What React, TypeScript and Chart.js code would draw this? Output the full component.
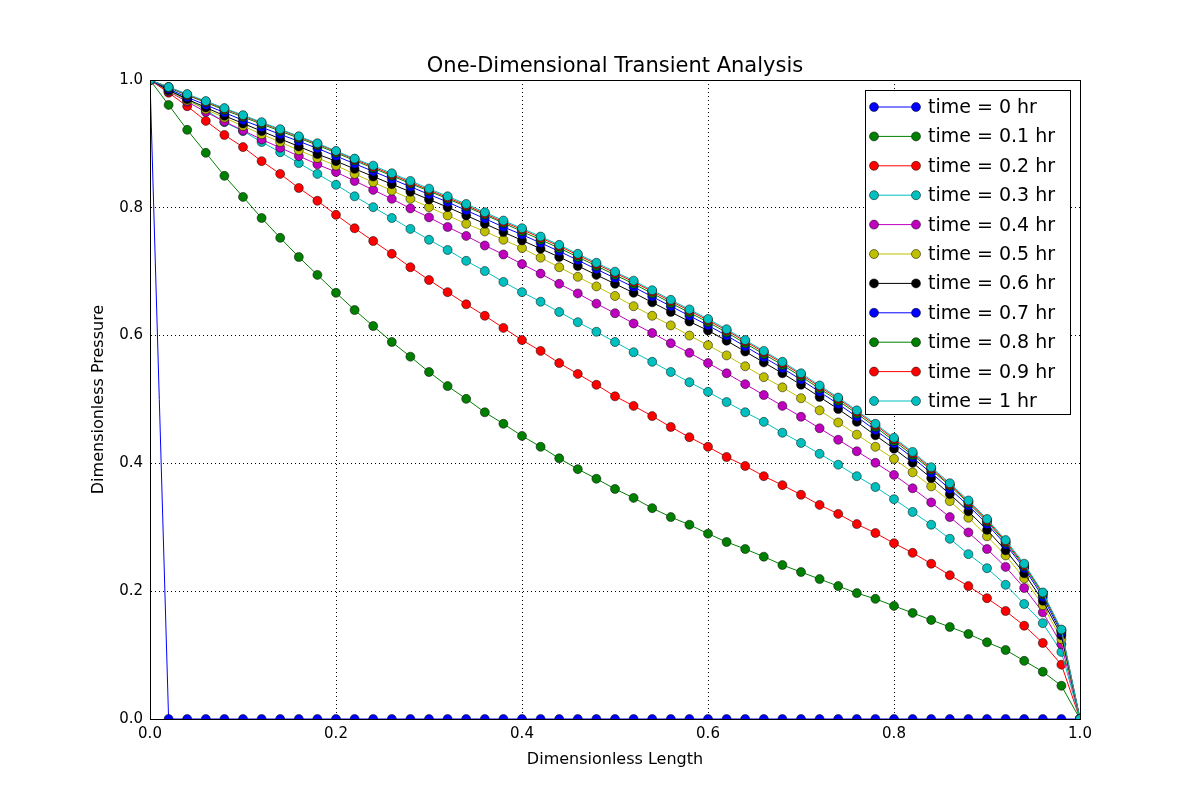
import React, { useEffect, useRef } from 'react';
import Chart from 'chart.js/auto';

// grid of dimensionless length, 0 to 1 in steps of 0.02
const lengths: number[] = Array.from({ length: 51 }, (_, i) => Math.round(i * 2) / 100);

const timeLabels = ['0', '0.1', '0.2', '0.3', '0.4', '0.5', '0.6', '0.7', '0.8', '0.9', '1'];
const seriesColors = ['#0000ff', '#008000', '#ff0000', '#00bfbf', '#bf00bf', '#bfbf00', '#000000', '#0000ff', '#008000', '#ff0000', '#00bfbf'];

const p0 = [
  1, 0, 0, 0, 0, 0, 0, 0, 0, 0,
  0, 0, 0, 0, 0, 0, 0, 0, 0, 0,
  0, 0, 0, 0, 0, 0, 0, 0, 0, 0,
  0, 0, 0, 0, 0, 0, 0, 0, 0, 0,
  0, 0, 0, 0, 0, 0, 0, 0, 0, 0,
  0,
];
const p01 = [
  1, .961, .922, .886, .850, .817, .784, .753, .723, .695,
  .667, .640, .615, .590, .567, .543, .521, .501, .480, .462,
  .443, .426, .408, .391, .376, .360, .346, .330, .316, .304,
  .290, .277, .266, .254, .241, .230, .219, .208, .197, .188,
  .177, .166, .155, .144, .133, .120, .108, .091, .074, .052,
  0,
];
const p02 = [
  1, .980, .959, .936, .914, .895, .873, .853, .831, .811,
  .789, .768, .748, .728, .707, .687, .668, .649, .631, .612,
  .593, .576, .557, .540, .523, .505, .490, .474, .457, .441,
  .426, .410, .396, .380, .366, .351, .335, .321, .305, .291,
  .275, .260, .243, .225, .208, .189, .169, .146, .119, .085,
  0,
];
const p03 = [
  1, .985, .970, .953, .934, .920, .903, .887, .870, .853,
  .836, .818, .801, .784, .767, .750, .734, .717, .701, .684,
  .668, .653, .637, .621, .606, .590, .574, .559, .543, .527,
  .512, .496, .480, .465, .448, .432, .415, .398, .380, .363,
  .344, .324, .304, .282, .258, .236, .210, .180, .150, .105,
  0,
];
const p04 = [
  1, .982, .966, .950, .935, .921, .907, .894, .881, .868,
  .856, .842, .828, .814, .799, .785, .770, .756, .741, .727,
  .712, .697, .681, .666, .650, .635, .619, .604, .588, .573,
  .557, .541, .524, .507, .490, .473, .455, .437, .419, .401,
  .382, .361, .339, .316, .292, .266, .238, .205, .167, .117,
  0,
];
const p05 = [
  1, .983, .968, .954, .941, .928, .915, .903, .890, .878,
  .866, .853, .840, .827, .814, .801, .788, .775, .763, .750,
  .737, .722, .707, .692, .677, .662, .646, .631, .616, .600,
  .585, .569, .552, .535, .519, .502, .483, .464, .445, .426,
  .407, .386, .364, .341, .315, .286, .256, .220, .178, .125,
  0,
];
const p06 = [
  1, .984, .970, .957, .944, .932, .920, .908, .896, .884,
  .873, .861, .849, .837, .825, .813, .801, .788, .775, .762,
  .749, .736, .723, .709, .695, .681, .667, .652, .637, .622,
  .608, .592, .575, .558, .541, .523, .504, .485, .465, .444,
  .423, .401, .377, .352, .325, .296, .264, .228, .185, .131,
  0,
];
const p07 = [
  1, .986, .973, .961, .949, .937, .926, .915, .904, .893,
  .881, .869, .857, .845, .833, .821, .809, .796, .783, .770,
  .758, .745, .732, .718, .704, .690, .676, .661, .646, .631,
  .616, .600, .583, .566, .549, .531, .512, .493, .473, .452,
  .431, .409, .385, .360, .334, .305, .273, .236, .191, .135,
  0,
];
const p08 = [
  1, .988, .976, .965, .953, .942, .931, .920, .909, .898,
  .886, .874, .862, .850, .838, .826, .814, .802, .789, .776,
  .763, .750, .737, .723, .709, .695, .681, .666, .651, .636,
  .621, .605, .588, .571, .554, .536, .517, .498, .478, .457,
  .435, .413, .390, .365, .338, .309, .276, .239, .195, .138,
  0,
];
const p09 = [
  1, .989, .977, .966, .955, .944, .933, .922, .911, .900,
  .888, .876, .864, .852, .840, .828, .816, .804, .791, .778,
  .766, .753, .740, .726, .712, .698, .684, .669, .654, .639,
  .624, .608, .591, .574, .557, .539, .520, .501, .481, .460,
  .438, .416, .392, .367, .340, .311, .278, .241, .197, .139,
  0,
];
const p10 = [
  1, .989, .978, .967, .956, .945, .934, .923, .912, .901,
  .889, .877, .866, .854, .842, .830, .818, .806, .793, .780,
  .768, .755, .742, .728, .714, .700, .686, .671, .656, .641,
  .626, .610, .593, .576, .559, .541, .522, .503, .483, .462,
  .440, .418, .394, .369, .342, .313, .280, .243, .198, .140,
  0,
];
const pressures = [p0, p01, p02, p03, p04, p05, p06, p07, p08, p09, p10];

const FONT = '"DejaVu Sans", sans-serif';

const overlay = {
  id: 'overlay',
  afterDraw(chart: any) {
    const { ctx, chartArea: a } = chart;
    ctx.save();
    ctx.fillStyle = '#000';
    ctx.textAlign = 'center';
    ctx.textBaseline = 'alphabetic';
    ctx.font = `21px ${FONT}`;
    ctx.fillText('One-Dimensional Transient Analysis', (a.left + a.right) / 2, a.top - 8);
    ctx.font = `16px ${FONT}`;
    ctx.fillText('Dimensionless Length', (a.left + a.right) / 2, a.bottom + 45);
    ctx.translate(a.left - 47, (a.top + a.bottom) / 2);
    ctx.rotate(-Math.PI / 2);
    ctx.fillText('Dimensionless Pressure', 0, 0);
    ctx.restore();

    // legend box in upper right
    ctx.save();
    const bx = a.right - 215, by = a.top + 10, bw = 205, bh = 324, row = 29.4;
    ctx.fillStyle = '#fff';
    ctx.fillRect(bx, by, bw, bh);
    ctx.strokeStyle = '#000';
    ctx.lineWidth = 1;
    ctx.strokeRect(bx + 0.5, by + 0.5, bw, bh);
    ctx.font = `19px ${FONT}`;
    ctx.textBaseline = 'middle';
    chart.data.datasets.forEach((d: any, i: number) => {
      const y = by + 17 + i * row;
      ctx.strokeStyle = d.borderColor;
      ctx.beginPath();
      ctx.moveTo(bx + 9, y);
      ctx.lineTo(bx + 51, y);
      ctx.stroke();
      [bx + 9, bx + 51].forEach((x) => {
        ctx.beginPath();
        ctx.arc(x, y, 4.5, 0, Math.PI * 2);
        ctx.fillStyle = d.backgroundColor;
        ctx.fill();
        ctx.strokeStyle = '#000';
        ctx.lineWidth = 0.5;
        ctx.stroke();
        ctx.lineWidth = 1;
      });
      ctx.fillStyle = '#000';
      ctx.textAlign = 'left';
      ctx.fillText(d.label, bx + 63, y + 1);
    });
    ctx.restore();
  },
};

const App: React.FC = () => {
  const canvasRef = useRef<HTMLCanvasElement>(null);
  const chartRef = useRef<Chart>();

  useEffect(() => {
    document.body.style.margin = '0';
    if (!canvasRef.current) return;
    const ctx = canvasRef.current.getContext('2d');
    if (!ctx) return;
    if (chartRef.current) chartRef.current.destroy();

    chartRef.current = new Chart(ctx, {
      type: 'line',
      data: {
        datasets: pressures.map((vals, i) => ({
          label: `time = ${timeLabels[i]} hr`,
          data: vals.map((v, j) => ({ x: lengths[j], y: v })),
          borderColor: seriesColors[i],
          backgroundColor: seriesColors[i],
          pointBorderColor: '#000',
          pointBorderWidth: 0.5,
          pointRadius: 4.5,
          borderWidth: 1,
          tension: 0,
          order: 11 - i,
        })),
      },
      options: {
        responsive: false,
        animation: false,
        events: [],
        layout: { padding: { top: 80, right: 120, left: 0, bottom: 0 } },
        plugins: { legend: { display: false }, title: { display: false }, tooltip: { enabled: false } },
        scales: {
          x: {
            type: 'linear',
            min: 0,
            max: 1,
            afterFit: (s: any) => { s.height = 81; },
            ticks: { stepSize: 0.2, color: '#000', font: { family: FONT, size: 15 }, padding: 6, callback: (v: any) => Number(v).toFixed(1) },
            grid: { color: '#000', tickLength: 0, lineWidth: 1 },
            border: { color: '#000', dash: [1, 3] },
          },
          y: {
            min: 0,
            max: 1,
            afterFit: (s: any) => { s.width = 150; },
            ticks: { stepSize: 0.2, color: '#000', font: { family: FONT, size: 15 }, padding: 7, callback: (v: any) => Number(v).toFixed(1) },
            grid: { color: '#000', tickLength: 0, lineWidth: 1 },
            border: { color: '#000', dash: [1, 3] },
          },
        },
      },
      plugins: [
        {
          id: 'frame',
          afterDatasetsDraw(chart: any) {
            const { ctx: c, chartArea: a } = chart;
            c.save();
            c.strokeStyle = '#000';
            c.lineWidth = 1;
            c.strokeRect(a.left + 0.5, a.top + 0.5, a.right - a.left, a.bottom - a.top);
            c.restore();
          },
        },
        overlay,
      ],
    });

    return () => {
      if (chartRef.current) chartRef.current.destroy();
    };
  }, []);

  return (
    <div style={{ width: 1200, height: 800, background: '#fff' }}>
      <canvas ref={canvasRef} width={1200} height={800} />
    </div>
  );
};

export default App;
